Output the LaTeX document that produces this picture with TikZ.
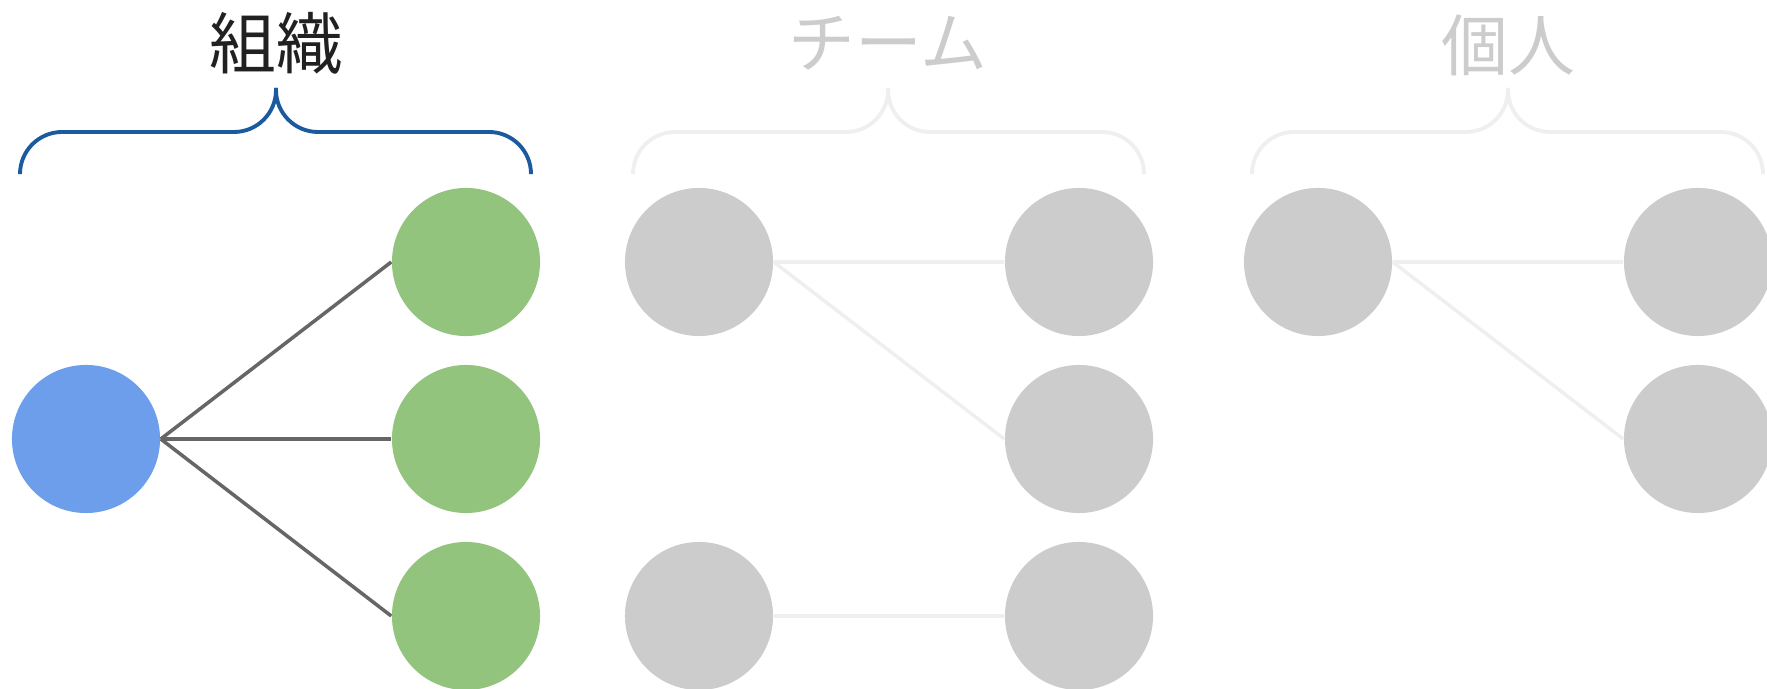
\documentclass[tikz,border=0pt]{standalone}
\usepackage{fontspec}
\newfontfamily\jpfont{Noto Sans CJK JP}
\definecolor{leadblue}{HTML}{6D9EEB}
\definecolor{memgreen}{HTML}{93C47D}
\definecolor{idlegray}{HTML}{CCCCCC}
\definecolor{bracegray}{HTML}{EFEFEF}
\definecolor{braceblue}{HTML}{1C5AA0}
\definecolor{linkgray}{HTML}{666666}
\begin{document}
\begin{tikzpicture}[x=0.01cm,y=-0.01cm,
  every node/.style={font=\jpfont\fontsize{19}{22}\selectfont},
  member/.style={circle,minimum size=1.48cm,inner sep=0pt},
  link/.style={line width=1pt},
  brace/.style={line width=1.1pt,rounded corners=0.42cm}]
  \useasboundingbox (0,0) rectangle (1767,689);
  % 組織
  \node[text=black!87] (orgtitle) at (276,43) {組織};
  \draw[brace,braceblue] (20,173) -- (20,132) -- (276,132) -- (276,88);
  \draw[brace,braceblue] (531,173) -- (531,132) -- (276,132) -- (276,88);
  \node[member,fill=leadblue] (orglead) at (86,439) {};
  \node[member,fill=memgreen] (orgA) at (466,262) {};
  \node[member,fill=memgreen] (orgB) at (466,439) {};
  \node[member,fill=memgreen] (orgC) at (466,616) {};
  \draw[link,linkgray] (orglead.east) -- (orgA.west);
  \draw[link,linkgray] (orglead.east) -- (orgB.west);
  \draw[link,linkgray] (orglead.east) -- (orgC.west);
  % チーム
  \node[text=idlegray] (teamtitle) at (888,43) {チーム};
  \draw[brace,bracegray] (633,173) -- (633,132) -- (888,132) -- (888,88);
  \draw[brace,bracegray] (1144,173) -- (1144,132) -- (888,132) -- (888,88);
  \node[member,fill=idlegray] (teamA) at (699,262) {};
  \node[member,fill=idlegray] (teamB) at (1079,262) {};
  \node[member,fill=idlegray] (teamC) at (1079,439) {};
  \node[member,fill=idlegray] (teamD) at (699,616) {};
  \node[member,fill=idlegray] (teamE) at (1079,616) {};
  \draw[link,bracegray] (teamA.east) -- (teamB.west);
  \draw[link,bracegray] (teamA.east) -- (teamC.west);
  \draw[link,bracegray] (teamD.east) -- (teamE.west);
  % 個人
  \node[text=idlegray] (soloTitle) at (1508,45) {個人};
  \draw[brace,bracegray] (1252,173) -- (1252,132) -- (1508,132) -- (1508,88);
  \draw[brace,bracegray] (1763,173) -- (1763,132) -- (1508,132) -- (1508,88);
  \node[member,fill=idlegray] (soloA) at (1318,262) {};
  \node[member,fill=idlegray] (soloB) at (1698,262) {};
  \node[member,fill=idlegray] (soloC) at (1698,439) {};
  \draw[link,bracegray] (soloA.east) -- (soloB.west);
  \draw[link,bracegray] (soloA.east) -- (soloC.west);
\end{tikzpicture}
\end{document}
